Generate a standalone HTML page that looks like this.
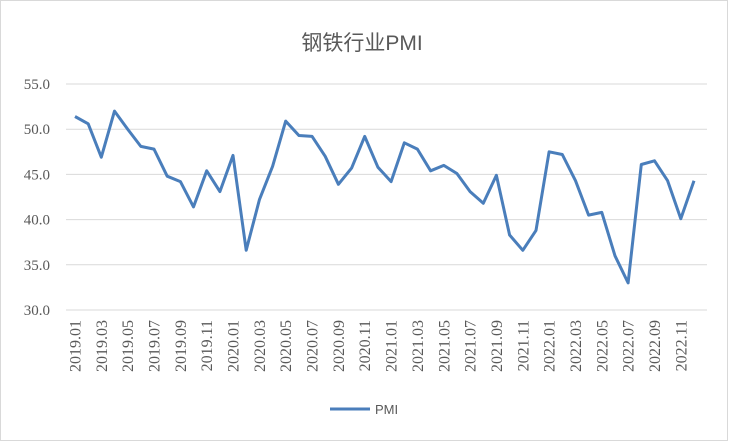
<!DOCTYPE html>
<html><head><meta charset="utf-8"><style>
body{margin:0;background:#fff;}
svg{display:block;font-family:"Liberation Sans","Noto Sans CJK SC",sans-serif;}
.t{font-family:"Liberation Serif",serif;}
</style></head><body>
<svg id="c" width="729" height="445" xmlns="http://www.w3.org/2000/svg">
<rect x="0.5" y="0.5" width="727" height="440" fill="#fff" stroke="#d9d9d9"/>
<text x="362" y="50" text-anchor="middle" font-size="21" fill="#595959">钢铁行业PMI</text>
<g id="g"></g>
<line x1="330" y1="409" x2="370" y2="409" stroke="#4a7ebb" stroke-width="3"/>
<text x="375" y="414" font-size="13" fill="#595959">PMI</text>
</svg>
<script>
var d=[51.4,50.6,46.9,52.0,50.0,48.1,47.8,44.8,44.2,41.4,45.4,43.1,47.1,36.6,42.2,45.9,50.9,49.3,49.2,47.0,43.9,45.7,49.2,45.8,44.2,48.5,47.8,45.4,46.0,45.1,43.1,41.8,44.9,38.3,36.6,38.8,47.5,47.2,44.3,40.5,40.8,36.0,33.0,46.1,46.5,44.3,40.1,44.3];
var s='';
function Y(v){return 310-(v-30)*226/25;}
function X(i){return 75+i*13.17;}
for(var v=30;v<=55;v+=5){var y=Y(v);s+='<line x1="66" x2="707" y1="'+y+'" y2="'+y+'" stroke="#d9d9d9"/>';
s+='<text class="t" x="50" y="'+(y+5)+'" text-anchor="end" font-size="15" fill="#595959">'+v.toFixed(1)+'</text>';}
var p=[];for(var i=0;i<d.length;i++)p.push(X(i).toFixed(1)+','+Y(d[i]).toFixed(1));
s+='<polyline points="'+p.join(' ')+'" fill="none" stroke="#4a7ebb" stroke-width="3" stroke-linejoin="round"/>';
for(var i=0;i<48;i+=2){var yr=2019+Math.floor(i/12),m=i%12+1;var t=yr+'.'+(m<10?'0':'')+m;var x=X(i)+5.5;
s+='<text class="t" transform="translate('+x+',320) rotate(-90)" text-anchor="end" font-size="16" fill="#595959">'+t+'</text>';}
document.getElementById('g').innerHTML=s;
</script>
</body></html>
